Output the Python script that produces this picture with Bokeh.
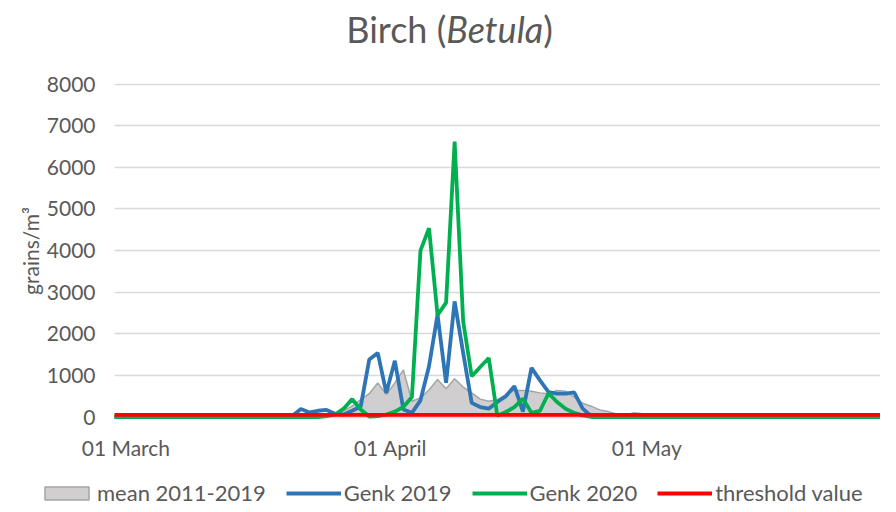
import pandas as pd
from bokeh.plotting import figure
from bokeh.models import (Range1d, FixedTicker, DatetimeTickFormatter, NumeralTickFormatter,
                          Legend, LegendItem, ColumnDataSource, Div)
from bokeh.embed import file_html
from bokeh.resources import INLINE

# ---------------- data (daily values, 29 February .. 31 May) ----------------
start_date = "2020-02-29"
n_days = 93
tick_dates = ["2020-03-01", "2020-04-01", "2020-05-01"]
y_ticks = [0, 1000, 2000, 3000, 4000, 5000, 6000, 7000, 8000]

mean_2011_2019 = [0]*21 + [
    10, 20, 30, 40, 60, 90, 150, 260, 420, 560,
    820, 540, 820, 1130, 380, 460, 650, 900, 680, 920,
    720, 580, 430, 380, 420, 540, 640, 640, 620, 580,
    560, 640, 620, 480, 330, 260, 170, 130, 70, 40,
    100, 80, 20] + [0]*29

genk_2019 = [0]*21 + [
    30, 190, 110, 150, 170, 80, 60, 150, 250, 1380,
    1540, 580, 1350, 180, 100, 400, 1220, 2460, 820, 2780,
    1540, 340, 240, 200, 360, 500, 740, 130, 1180, 880,
    600, 560, 560, 590, 200, 20] + [0]*36

genk_2020 = [0]*25 + [
    20, 60, 200, 430, 180, 10, 20, 60, 130, 240,
    480, 4000, 4540, 2450, 2750, 6620, 2300, 980, 1200, 1420,
    30, 120, 240, 440, 100, 150, 570, 360, 200, 100,
    40, 0] + [0]*36

threshold = 50
threshold_values = [threshold] * n_days

series_labels = ["mean 2011-2019", "Genk 2019", "Genk 2020", "threshold value"]

dates = pd.date_range(start_date, periods=n_days, freq="D")
src = ColumnDataSource(dict(date=dates, mean=mean_2011_2019, g19=genk_2019,
                            g20=genk_2020, thr=threshold_values))

TXT = "#595959"
FONT = "Lato"
C_MEAN_FILL, C_MEAN_LINE = "#d0cece", "#a5a5a5"
C19, C20, CTHR = "#2e75b6", "#00b050", "#ff0000"
LW = 3.8

title = Div(text='Birch (<i>Betula</i>)', width=880, height=60,
            styles={"font-family": FONT, "font-size": "36px", "color": TXT,
                    "text-align": "center", "line-height": "48px", "padding-left": "9px",
                    "width": "880px"})

mar1 = pd.Timestamp(tick_dates[0])
x_range = Range1d(mar1 - pd.Timedelta(hours=int(0.87 * 24)),
                  mar1 + pd.Timedelta(hours=int(88.9 * 24)))

p = figure(width=880, height=396, x_axis_type="datetime", x_range=x_range,
           y_range=Range1d(-60, 8040), output_backend="svg", toolbar_location=None,
           min_border_left=114, min_border_right=0, min_border_top=12, min_border_bottom=47)
p.outline_line_color = None

p.xgrid.grid_line_color = None
p.ygrid.grid_line_color = "#d9d9d9"
p.ygrid.grid_line_width = 1.5

p.varea(x="date", y1=0, y2="mean", source=src, fill_color=C_MEAN_FILL)
p.line(x="date", y="mean", source=src, line_color=C_MEAN_LINE, line_width=1.5)
p.line(x="date", y="g19", source=src, line_color=C19, line_width=LW)
p.line(x="date", y="g20", source=src, line_color=C20, line_width=LW)
p.line(x="date", y="thr", source=src, line_color=CTHR, line_width=LW)

tick_ms = [(pd.Timestamp(d) + pd.Timedelta(hours=12)).value / 1e6 for d in tick_dates]
xa = p.xaxis[0]
xa.ticker = FixedTicker(ticks=tick_ms)
fmt = "%d %B"
xa.formatter = DatetimeTickFormatter(milliseconds=fmt, seconds=fmt, minsec=fmt, minutes=fmt,
                                     hourmin=fmt, hours=fmt, days=fmt, months=fmt, years=fmt)
xa.axis_line_color = None
xa.major_tick_line_color = None
xa.minor_tick_line_color = None
xa.major_tick_out = 0
xa.major_label_standoff = 15
xa.major_label_text_font = FONT
xa.major_label_text_font_size = "21px"
xa.major_label_text_color = TXT

ya = p.yaxis[0]
ya.ticker = FixedTicker(ticks=y_ticks)
ya.formatter = NumeralTickFormatter(format="0")
ya.axis_line_color = None
ya.major_tick_line_color = None
ya.minor_tick_line_color = None
ya.major_tick_out = 0
ya.major_label_standoff = 19
ya.major_label_text_font = FONT
ya.major_label_text_font_size = "21px"
ya.major_label_text_color = TXT
ya.axis_label = "grains/m³"
ya.axis_label_standoff = 1
ya.axis_label_text_font = FONT
ya.axis_label_text_font_size = "21px"
ya.axis_label_text_font_style = "normal"
ya.axis_label_text_color = TXT

# legend strip (separate svg figure and root, same glyph styles)
lg = figure(width=880, height=40, output_backend="svg", toolbar_location=None,
            min_border=0, min_border_left=39, x_axis_location=None, y_axis_location=None,
            x_range=Range1d(0, 1), y_range=Range1d(0, 1))
lg.outline_line_color = None
lg.grid.visible = False
off = [5, 6]
k_mean = lg.quad(left=off, right=off, top=off, bottom=off, fill_color=C_MEAN_FILL,
                 line_color=C_MEAN_LINE, line_width=1.5)
k19 = lg.line(x=off, y=off, line_color=C19, line_width=LW)
k20 = lg.line(x=off, y=off, line_color=C20, line_width=LW)
kthr = lg.line(x=off, y=off, line_color=CTHR, line_width=LW)
legend = Legend(items=[LegendItem(label=lab, renderers=[r]) for lab, r in
                       zip(series_labels, [k_mean, k19, k20, kthr])],
                orientation="horizontal", location="bottom_left",
                glyph_width=55, glyph_height=16, label_standoff=3, spacing=20,
                padding=0, margin=0, border_line_color=None, background_fill_alpha=0,
                label_text_font=FONT, label_text_font_size="22px", label_text_color=TXT)
lg.add_layout(legend, "center")

open("out.html", "w").write(file_html([title, p, lg], INLINE))
